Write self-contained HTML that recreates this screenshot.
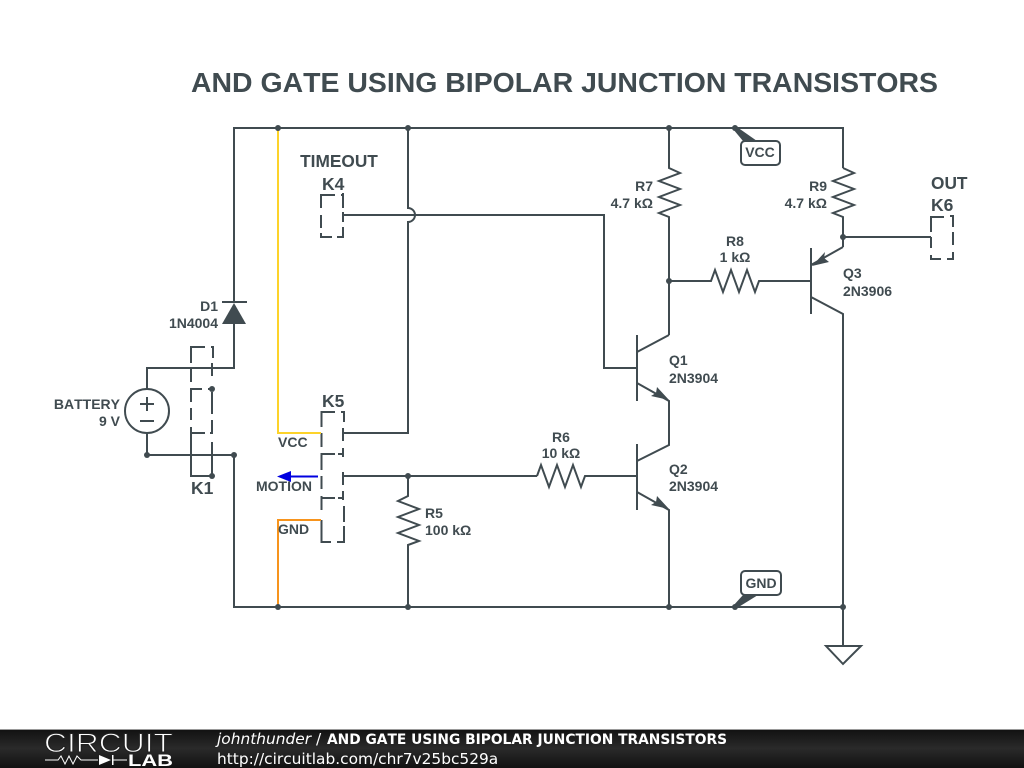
<!DOCTYPE html>
<html><head><meta charset="utf-8">
<style>
html,body{margin:0;padding:0;background:#fff;width:1024px;height:768px;overflow:hidden}
svg{display:block}
text{font-family:"Liberation Sans",sans-serif;font-weight:bold;fill:#404b50;font-kerning:none}
.s{font-size:14px}
.k{font-size:17.5px}
.f{font-family:"DejaVu Sans",sans-serif;font-size:15.4px;fill:#fff;font-weight:normal}
</style></head><body>
<svg width="1024" height="768" viewBox="0 0 1024 768" xmlns="http://www.w3.org/2000/svg">
<defs><linearGradient id="g" x1="0" y1="0" x2="0" y2="1"><stop offset="0" stop-color="#111"/><stop offset=".5" stop-color="#2a2a2a"/><stop offset="1" stop-color="#111"/></linearGradient></defs>
<text x="191" y="92" textLength="747" lengthAdjust="spacingAndGlyphs" style="font-size:27.5px">AND GATE USING BIPOLAR JUNCTION TRANSISTORS</text>

<g fill="none" stroke="#404b50" stroke-width="2">
<!-- rails -->
<path d="M234 302V128H843V168"/>
<path d="M234 455V607H843V646"/>
<!-- diode / battery -->
<path d="M222 302H247M234 324V368H147V390M147 433V455H234"/>
<circle cx="147" cy="411" r="22"/>
<path d="M140 404H154M147 397V411M140 421H154"/>
<!-- K1 -->
<path d="M191 363V347H205M211 347H213V358M191 369V382M191 388V402M191 408V420M191 427V476H212V442M212 363V376M212 392V414M212 420V434M191 389H202M208 389H212M191 433H205M210 433H213"/>
<!-- K4 -->
<path d="M321 208V195H335M341 195H343V193M343 193V208M321 215V228M321 233V237H332M337 237H343V227M343 222V212"/>
<path d="M343 215H604V368H637"/>
<!-- wire with hop -->
<path d="M408 128V208A7 7 0 0 1 408 222V433H343"/>
<!-- K5 -->
<path d="M321.500 427V412H335M341 412H344V422M321.500 433V447M321.500 453V470M321.500 476V489M321.500 496V510M321.500 520V542H331M337 542H344V526M344 522V506M343 428V441M343 448V457M343 472V485M343 491V500"/>
<path d="M321.500 454H335M338 454H343M321.500 498H335M338 498H343"/>
<path d="M343 476H537"/>
<!-- R5 -->
<path d="M408 476V496L398 501L419 509L398 517L419 525L398 533L419 541L408 545V607"/>
<!-- R6 -->
<path d="M537 476L541 465L549 487L557 465L565 487L573 465L581 487L585 476H637"/>
<!-- R7 -->
<path d="M669 128V168L680 173L659 181L680 189L659 197L680 205L659 213L669 217V335"/>
<!-- R8 -->
<path d="M669 281H711L715 270L723 292L731 270L739 292L747 270L755 292L759 281H811"/>
<!-- R9 -->
<path d="M843 168L854 173L833 181L854 189L833 197L854 205L833 213L843 217V247"/>
<!-- Q1, Q2 -->
<path d="M637 335V401M637 352L669 335M637 383L669 401V445L637 461M637 444V510M637 492L669 510V607"/>
<!-- Q3 -->
<path d="M811 248V314M811 265L843 247M811 297L843 314V607"/>
<!-- K6 -->
<path d="M843 237H931M931 232V217H944M950 216H953V227M953 232V245M953 252V259H947M941 259H931V255M931 237V248"/>
<!-- ground -->
<path d="M826 646H861L843 664Z"/>
<!-- tags -->
<rect x="741" y="141" width="39" height="24" rx="4" fill="#fff"/>
<rect x="741" y="571" width="40" height="24" rx="4" fill="#fff"/>
</g>

<!-- coloured wires -->
<path d="M278 128V433H321" fill="none" stroke="#fdd32a" stroke-width="2"/>
<path d="M321 520H278V607" fill="none" stroke="#f7941d" stroke-width="2"/>
<path d="M318 476.500H288" fill="none" stroke="#0000e0" stroke-width="2"/>
<path d="M277 476.500L291 471V482Z" fill="#0000e0"/>

<!-- filled shapes -->
<g fill="#404b50" stroke="none">
<path d="M222 324H246L234 303Z"/>
<path d="M669 400L657 387L656 393L651 396Z"/>
<path d="M669 509L657 496L656 502L651 505Z"/>
<path d="M812 266L825 252L824 258L829 262Z"/>
<path d="M733 129L737 127L757 141H743Z"/>
<path d="M733 606L737 608L758 595H743Z"/>
<circle cx="278" cy="128" r="3"/><circle cx="408" cy="128" r="3"/><circle cx="669" cy="128" r="3"/><circle cx="735" cy="128" r="3"/>
<circle cx="669" cy="281" r="3"/><circle cx="843" cy="237" r="3"/>
<circle cx="147" cy="455" r="3"/><circle cx="234" cy="455" r="3"/><circle cx="212" cy="389" r="3"/><circle cx="212" cy="476" r="3"/>
<circle cx="408" cy="476" r="3"/>
<circle cx="278" cy="607" r="3"/><circle cx="408" cy="607" r="3"/><circle cx="669" cy="607" r="3"/><circle cx="735" cy="607" r="3"/><circle cx="843" cy="607" r="3"/>
</g>

<!-- labels -->
<text class="s" x="218" y="311" text-anchor="end">D1</text>
<text class="s" x="218" y="328" text-anchor="end">1N4004</text>
<text class="s" x="120" y="409" text-anchor="end">BATTERY</text>
<text class="s" x="120" y="426" text-anchor="end">9 V</text>
<text class="k" x="191" y="494">K1</text>
<text x="339" y="167" text-anchor="middle" style="font-size:17.300px">TIMEOUT</text>
<text class="k" x="322" y="190">K4</text>
<text class="k" x="322" y="407">K5</text>
<text class="s" x="278" y="447">VCC</text>
<text class="s" x="256" y="491">MOTION</text>
<text class="s" x="278" y="534">GND</text>
<text class="s" x="425" y="518">R5</text>
<text class="s" x="425" y="535">100 kΩ</text>
<text class="s" x="561" y="442" text-anchor="middle">R6</text>
<text class="s" x="561" y="458" text-anchor="middle">10 kΩ</text>
<text class="s" x="653" y="191" text-anchor="end">R7</text>
<text class="s" x="653" y="208" text-anchor="end">4.7 kΩ</text>
<text class="s" x="735" y="246" text-anchor="middle">R8</text>
<text class="s" x="735" y="262" text-anchor="middle">1 kΩ</text>
<text class="s" x="827" y="191" text-anchor="end">R9</text>
<text class="s" x="827" y="208" text-anchor="end">4.7 kΩ</text>
<text class="s" x="669" y="365">Q1</text>
<text class="s" x="669" y="383">2N3904</text>
<text class="s" x="669" y="474">Q2</text>
<text class="s" x="669" y="491">2N3904</text>
<text class="s" x="843" y="278">Q3</text>
<text class="s" x="843" y="296">2N3906</text>
<text x="931" y="189" style="font-size:17.300px">OUT</text>
<text class="k" x="931" y="211">K6</text>
<text class="s" x="760" y="157" text-anchor="middle">VCC</text>
<text class="s" x="761" y="588" text-anchor="middle">GND</text>

<!-- footer -->
<rect x="0" y="729" width="1024" height="39" fill="url(#g)"/>
<rect x="0" y="729" width="1024" height="1" fill="#999"/>
<text x="44" y="752" textLength="129" lengthAdjust="spacingAndGlyphs" style="font-size:27px;font-weight:normal;fill:#fff;stroke:#222;stroke-width:1">CIRCUIT</text>
<path d="M45 760H58L61 756L65 764L69 756L73 764L77 756L81 760H98M112 760H127" fill="none" stroke="#fff" stroke-width="1"/>
<path d="M99 755V765L111 760Z M112 755H113.500V765H112Z" fill="#fff"/>
<text x="128" y="766" textLength="45" lengthAdjust="spacingAndGlyphs" style="font-size:17px;fill:#fff">LAB</text>
<text class="f" x="217" y="744"><tspan font-style="italic">johnthunder</tspan> / <tspan x="327" font-weight="bold" font-size="13.800">AND GATE USING BIPOLAR JUNCTION TRANSISTORS</tspan></text>
<text class="f" x="217" y="764">http://circuitlab.com/chr7v25bc529a</text>
</svg>
</body></html>
